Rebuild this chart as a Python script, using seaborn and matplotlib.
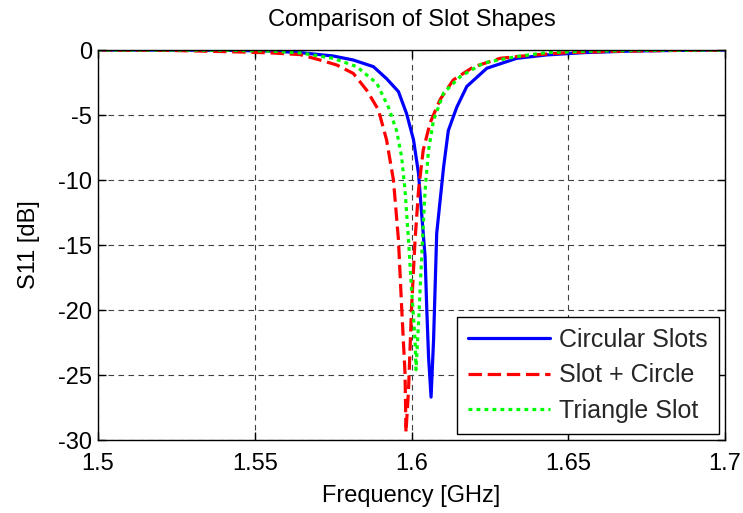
import numpy as np
import pandas as pd
import matplotlib
matplotlib.use("Agg")
import matplotlib.pyplot as plt
import seaborn as sns

# Circular Slots
circ_f = [1.500, 1.520, 1.540, 1.555, 1.5644, 1.575, 1.5814, 1.5878, 1.592, 1.5958, 1.5984,
          1.6006, 1.6022, 1.6032, 1.6043, 1.6048, 1.6054, 1.6062, 1.6070, 1.6080, 1.6102,
          1.6117, 1.6144, 1.6176, 1.624, 1.6335, 1.643, 1.655, 1.670, 1.685, 1.700]
circ_s = [0.0, 0.0, -0.02, -0.08, -0.2, -0.46, -0.77, -1.28, -2.2, -3.2, -4.9,
          -6.9, -9.5, -12.6, -15.9, -19.7, -23.6, -26.7, -22.3, -14.1, -9.0,
          -6.2, -4.4, -2.8, -1.4, -0.64, -0.38, -0.2, -0.08, -0.03, 0.0]

# Slot + Circle
sc_f = [1.500, 1.520, 1.5325, 1.545, 1.555, 1.5644, 1.5708, 1.5761, 1.5814, 1.5857, 1.5894,
        1.592, 1.5942, 1.5958, 1.5968, 1.5979, 1.5982, 1.5990, 1.6000, 1.6011, 1.6022,
        1.6037, 1.6059, 1.6091, 1.6133, 1.6197, 1.6282, 1.6388, 1.650, 1.665, 1.680, 1.700]
sc_s = [0.0, -0.02, -0.08, -0.15, -0.22, -0.35, -0.77, -1.15, -1.8, -3.1, -4.6,
        -6.9, -10.0, -14.6, -19.7, -24.9, -29.4, -26.2, -19.7, -14.6, -10.8,
        -7.7, -5.6, -3.8, -2.3, -1.3, -0.64, -0.38, -0.2, -0.1, -0.04, 0.0]

# Triangle Slot
tri_f = [1.500, 1.520, 1.540, 1.555, 1.5644, 1.575, 1.5825, 1.5889, 1.5926, 1.5952, 1.5968,
         1.5979, 1.5990, 1.6000, 1.6011, 1.6014, 1.6022, 1.6032, 1.6043, 1.6054, 1.6070,
         1.6102, 1.6155, 1.6229, 1.6335, 1.643, 1.655, 1.670, 1.685, 1.700]
tri_s = [0.0, 0.0, -0.02, -0.08, -0.22, -0.64, -1.28, -2.56, -4.4, -6.2, -8.2,
         -10.8, -14.6, -18.5, -22.3, -24.6, -21.0, -15.9, -10.8, -7.7, -5.4,
         -3.3, -2.05, -1.0, -0.5, -0.2, -0.1, -0.04, -0.02, 0.0]

labels = ["Circular Slots", "Slot + Circle", "Triangle Slot"]
x_ticks = [1.5, 1.55, 1.6, 1.65, 1.7]
x_tick_labels = ["1.5", "1.55", "1.6", "1.65", "1.7"]
y_ticks = [0, -5, -10, -15, -20, -25, -30]

sns.set_theme(style="white")
plt.rcParams['font.family'] = ['Liberation Sans', 'DejaVu Sans']

FS = 17

fig = plt.figure(figsize=(7.43, 5.13), dpi=100)
ax = fig.add_axes([0.132, 0.1423, 0.844, 0.7602])

sns.lineplot(x=circ_f, y=circ_s, ax=ax, color="#0000ff", linewidth=2.3,
             linestyle="-", label=labels[0], sort=False)
sns.lineplot(x=sc_f, y=sc_s, ax=ax, color="#ff0000", linewidth=2.3,
             linestyle=(0, (4.2, 1.8)), label=labels[1], sort=False)
sns.lineplot(x=tri_f, y=tri_s, ax=ax, color="#00ff00", linewidth=2.3,
             linestyle=(0, (1.2, 1.3)), label=labels[2], sort=False)

ax.set_xlim(1.5, 1.7)
ax.set_ylim(-30, 0)
ax.set_xticks(x_ticks)
ax.set_xticklabels(x_tick_labels)
ax.set_yticks(y_ticks)
ax.set_yticklabels([str(v) for v in y_ticks])

ax.grid(True, color="#404040", linestyle=(0, (5, 4)), linewidth=0.8)
ax.set_axisbelow(True)
for sp in ax.spines.values():
    sp.set_color("black")
    sp.set_linewidth(1.0)
    sp.set_visible(True)
ax.tick_params(direction="in", length=6, width=1, colors="black", labelsize=FS,
               top=True, right=True, bottom=True, left=True)
ax.tick_params(axis="x", pad=9.5)
ax.tick_params(axis="y", pad=4.5)

ax.set_title("Comparison of Slot Shapes", fontsize=FS, color="black", pad=17)
ax.set_xlabel("Frequency [GHz]", fontsize=FS, color="black", labelpad=7)
ax.set_ylabel("S11 [dB]", fontsize=FS, color="black", labelpad=13)

leg = ax.legend(loc="lower right", fontsize=18, frameon=True, fancybox=False,
                edgecolor="black", framealpha=1, handlelength=3.3,
                handletextpad=0.35, borderaxespad=0.25, labelspacing=0.45,
                borderpad=0.45)
leg.get_frame().set_linewidth(1.0)

fig.savefig("out.png", dpi=100, facecolor="white")
